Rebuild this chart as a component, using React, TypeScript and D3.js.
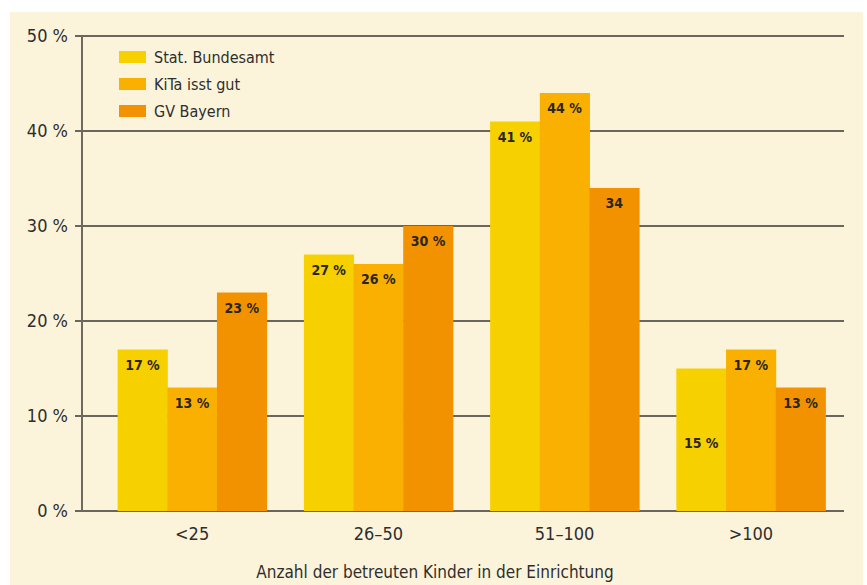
import React, { useRef, useEffect } from 'react';
import * as d3 from 'd3';

const categories = ['<25', '26–50', '51–100', '>100'];
const seriesNames = ['Stat. Bundesamt', 'KiTa isst gut', 'GV Bayern'];
const statBundesamt = [17, 27, 41, 15];
const kitaIsstGut = [13, 26, 44, 17];
const gvBayern = [23, 30, 34, 13];
const valueLabels = [
  ['17 %', '27 %', '41 %', '15 %'],
  ['13 %', '26 %', '44 %', '17 %'],
  ['23 %', '30 %', '34', '13 %'],
];
const yTicks = [0, 10, 20, 30, 40, 50];
const colors = ['#f7d000', '#f9b000', '#f39200'];
const axisTitle = 'Anzahl der betreuten Kinder in der Einrichtung';

const W = 867;
const H = 585;
const FONT = '"Liberation Sans Narrow", "DejaVu Sans Condensed", "Open Sans", sans-serif';

const App = () => {
  const svgRef = useRef<SVGSVGElement>(null);

  useEffect(() => {
    const series = [statBundesamt, kitaIsstGut, gvBayern];
    const svg = d3.select(svgRef.current).attr('width', W).attr('height', H).html('');

    // cream panel
    svg.append('rect').attr('x', 10).attr('y', 12).attr('width', 853).attr('height', H - 12)
      .attr('fill', '#fcf4da');

    const left = 82, right = 844;
    const y = d3.scaleLinear().domain([0, 50]).range([511, 36]);
    const x0 = d3.scaleBand().domain(categories).range([99, 844]).paddingInner(0.2).paddingOuter(0.1);
    const x1 = d3.scaleBand().domain(seriesNames).range([0, x0.bandwidth()]);

    // gridlines + ticks
    const grid = svg.append('g');
    yTicks.forEach(t => {
      grid.append('line').attr('x1', left - 7).attr('x2', right)
        .attr('y1', y(t)).attr('y2', y(t))
        .attr('stroke', '#3a3732').attr('stroke-width', 1.6);
      grid.append('text').attr('x', left - 14).attr('y', y(t)).attr('dy', '0.35em')
        .attr('text-anchor', 'end').attr('font-family', FONT).attr('font-size', 18)
        .attr('fill', '#2e2e2e').text(`${t} %`);
    });
    svg.append('line').attr('x1', left).attr('x2', left).attr('y1', y(50)).attr('y2', y(0))
      .attr('stroke', '#6f6a60').attr('stroke-width', 2);

    // bars
    categories.forEach((c, ci) => {
      const g = svg.append('g').attr('transform', `translate(${x0(c)},0)`);
      seriesNames.forEach((s, si) => {
        const v = series[si][ci];
        g.append('rect').attr('x', x1(s)!).attr('y', y(v))
          .attr('width', x1.bandwidth() + 0.5).attr('height', y(0) - y(v))
          .attr('fill', colors[si]);
        // the 15 % label of the last group sits low inside its bar
        const low = si === 0 && ci === 3;
        g.append('text').attr('x', x1(s)! + x1.bandwidth() / 2)
          .attr('y', low ? y(v) + 79 : y(v) + 20)
          .attr('text-anchor', 'middle').attr('font-family', FONT).attr('font-weight', 'bold')
          .attr('font-size', 14).attr('fill', '#2a2622').text(valueLabels[si][ci]);
      });
    });

    // x labels
    categories.forEach(c => {
      svg.append('text').attr('x', x0(c)! + x0.bandwidth() / 2).attr('y', 540)
        .attr('text-anchor', 'middle').attr('font-family', FONT).attr('font-size', 18)
        .attr('fill', '#2e2e2e').text(c);
    });
    svg.append('text').attr('x', 435).attr('y', 578).attr('text-anchor', 'middle')
      .attr('font-family', FONT).attr('font-size', 17).attr('fill', '#2e2e2e').text(axisTitle);

    // legend
    seriesNames.forEach((s, i) => {
      const ly = 57 + i * 27;
      svg.append('rect').attr('x', 119).attr('y', ly - 6).attr('width', 27).attr('height', 12)
        .attr('fill', colors[i]);
      svg.append('text').attr('x', 154).attr('y', ly).attr('dy', '0.35em')
        .attr('font-family', FONT).attr('font-size', 16).attr('fill', '#2e2e2e').text(s);
    });
  }, []);

  return <svg ref={svgRef} style={{ position: 'absolute', left: 0, top: 0 }} />;
};

export default App;
